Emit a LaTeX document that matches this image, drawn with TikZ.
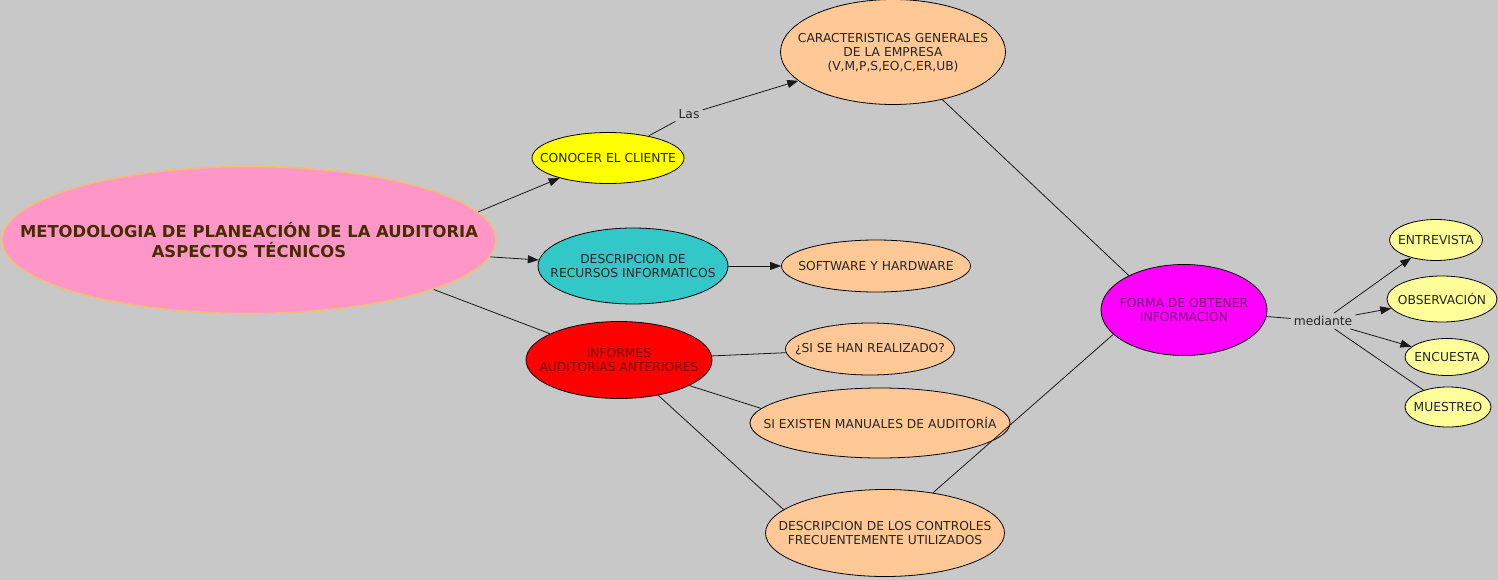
\documentclass[tikz,border=0pt]{standalone}
\usepackage{fontspec}
\setmainfont{DejaVu Sans}
\usetikzlibrary{shapes.geometric,arrows.meta}
\definecolor{fondo}{HTML}{C8C8C8}
\definecolor{rosa}{HTML}{FF96C8}
\definecolor{borderosa}{HTML}{F0BE78}
\definecolor{durazno}{HTML}{FFC896}
\definecolor{turquesa}{HTML}{33C8C8}
\definecolor{amarilloclaro}{HTML}{FFFF99}
\definecolor{amarillo}{HTML}{FFFF00}
\definecolor{rojo}{HTML}{FF0000}
\definecolor{fucsia}{HTML}{FF00FF}
\definecolor{textofucsia}{HTML}{7A007A}
\definecolor{textorojo}{HTML}{780000}
\definecolor{cafe}{HTML}{462D00}
\tikzset{
  bubble/.style={ellipse,draw=black,line width=0.8pt,inner sep=0pt},
  txt/.style={align=center,text=black!85,font=\fontsize{12.3}{14}\selectfont},
  lnk/.style={line width=0.8pt,draw=black!90},
  arr/.style={lnk,-{Triangle[length=11pt,width=8pt]}},
  lbl/.style={fill=none,inner sep=3pt,text=black!85,font=\fontsize{12.3}{14}\selectfont}
}
\begin{document}
\begin{tikzpicture}[x=1pt,y=-1pt]
\fill[fondo] (0,0) rectangle (1498,580);
\useasboundingbox (0,0) rectangle (1498,580);

\node[bubble,fill=rosa,draw=borderosa,line width=1.6pt,minimum width=494,minimum height=147,
  label={[align=center,text=cafe,font=\fontsize{16.4}{20}\selectfont\bfseries]center:METODOLOGIA DE PLANEACIÓN DE LA AUDITORIA\\ASPECTOS TÉCNICOS}] (metodo) at (249,240) {};

\node[bubble,fill=amarillo,minimum width=152,minimum height=51,
  label={[txt]center:CONOCER EL CLIENTE}] (conocer) at (608,158) {};
\node[bubble,fill=durazno,minimum width=225,minimum height=105,
  label={[txt,yshift=-1]center:CARACTERISTICAS GENERALES\\DE LA EMPRESA\\(V,M,P,S,EO,C,ER,UB)}] (caract) at (893,52) {};
\node[bubble,fill=turquesa,minimum width=190,minimum height=76,
  label={[txt]center:DESCRIPCION DE\\RECURSOS INFORMATICOS}] (recursos) at (633,266) {};
\node[bubble,fill=durazno,minimum width=189,minimum height=52,
  label={[txt]center:SOFTWARE Y HARDWARE}] (software) at (876,266) {};
\node[bubble,fill=rojo,minimum width=186,minimum height=77,
  label={[txt,text=textorojo]center:INFORMES\\AUDITORÍAS ANTERIORES}] (informes) at (619,360) {};
\node[bubble,fill=durazno,minimum width=169,minimum height=52,
  label={[txt]center:¿SI SE HAN REALIZADO?}] (realizado) at (870,349) {};
\node[bubble,fill=durazno,minimum width=260,minimum height=70,
  label={[txt]center:SI EXISTEN MANUALES DE AUDITORÍA}] (manuales) at (880,423) {};
\node[bubble,fill=durazno,minimum width=239,minimum height=87,
  label={[txt]center:DESCRIPCION DE LOS CONTROLES\\FRECUENTEMENTE UTILIZADOS}] (controles) at (885,533) {};
\node[bubble,fill=fucsia,minimum width=166,minimum height=91,
  label={[txt,text=textofucsia]center:FORMA DE OBTENER\\INFORMACIÓN}] (forma) at (1184,310) {};

\node[bubble,fill=amarilloclaro,minimum width=93,minimum height=41,
  label={[txt]center:ENTREVISTA}] (entrevista) at (1436,240) {};
\node[bubble,fill=amarilloclaro,minimum width=110,minimum height=46,
  label={[txt]center:OBSERVACIÓN}] (observacion) at (1442,299) {};
\node[bubble,fill=amarilloclaro,minimum width=84,minimum height=37,
  label={[txt]center:ENCUESTA}] (encuesta) at (1447,357) {};
\node[bubble,fill=amarilloclaro,minimum width=86,minimum height=40,
  label={[txt]center:MUESTREO}] (muestreo) at (1448,407) {};

\node[lbl] (las) at (689,114) {Las};
\node[lbl] (mediante) at (1323,321) {mediante};

\draw[arr] (metodo.7) -- (conocer);
\draw[arr] (metodo.-4.5) -- (recursos);
\draw[lnk] (metodo.-15) -- (informes);
\draw[lnk] (conocer) -- (las);
\draw[arr] (las) -- (caract);
\draw[arr] (recursos) -- (software);
\draw[lnk] (informes) -- (realizado);
\draw[lnk] (informes.-20) -- (manuales.173.5);
\draw[lnk] (informes.-42) -- (controles.167);
\draw[lnk] (caract.-44) -- (forma.148.6);
\draw[lnk] (controles.40) -- (forma.199.4);
\draw[lnk] (forma) -- (mediante);
\draw[arr] (mediante) -- (entrevista);
\draw[arr] (mediante) -- (observacion);
\draw[arr] (mediante) -- (encuesta);
\draw[lnk] (mediante) -- (muestreo);
\end{tikzpicture}
\end{document}
